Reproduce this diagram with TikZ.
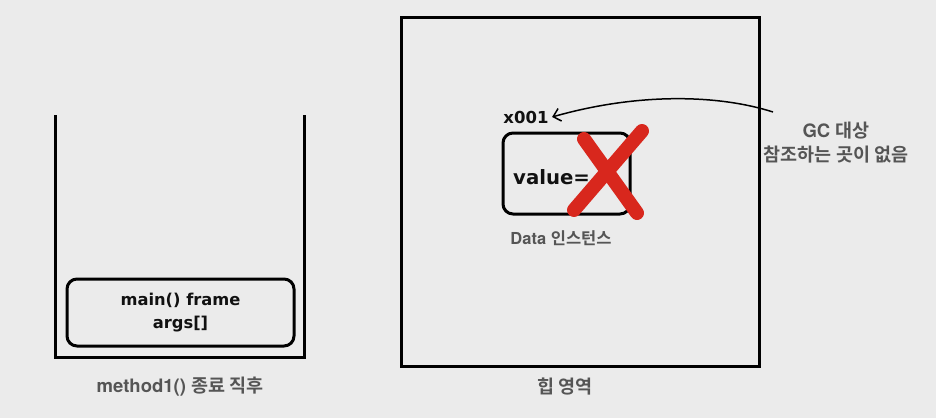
\documentclass[tikz,border=0pt]{standalone}
\usepackage{fontspec}
\setmainfont{TeX Gyre Heros}
\newfontfamily\krfont{Noto Sans CJK KR}[BoldFont={Noto Sans CJK KR Bold}]
\newfontfamily\medfont{DejaVu Sans Bold}
\newcommand{\kr}[1]{{\krfont\bfseries #1}}
\usetikzlibrary{arrows.meta}
\definecolor{bg}{HTML}{EBEBEB}
\definecolor{lab}{HTML}{555555}
\definecolor{xred}{HTML}{D8271D}
\definecolor{ink}{HTML}{111111}
\tikzset{
  x=1pt,y=-1pt,
  wall/.style={line width=3pt,black},
  frame/.style={draw,line width=3pt,rounded corners=10pt},
  caption/.style={text=lab,font=\bfseries\fontsize{18.5}{24}\selectfont,align=center},
  body/.style={text=ink,font=\medfont\fontsize{16.3}{24}\selectfont,align=center},
  cross/.style={line width=14pt,xred,line cap=round},
}
\begin{document}
\begin{tikzpicture}
\fill[bg] (0,0) rectangle (936,418);
\useasboundingbox (0,0) rectangle (936,418);
% stack
\coordinate (sTL) at (55,115);
\coordinate (sBL) at (55,357);
\coordinate (sBR) at (304,357);
\coordinate (sTR) at (304,115);
\draw[wall] (sTL) -- (sBL) -- (sBR) -- (sTR);
\node[frame,minimum width=227pt,minimum height=67pt] (mainf) at (180.5,312.5) {};
\node[body] (maintxt) at (mainf.center) {main() frame\\[-1pt]args[]};
\node[caption] (stacklab) at (180,387) {method1() \kr{종료 직후}};
% heap
\node[draw,line width=3pt,minimum width=358pt,minimum height=349pt] (heap) at (580,191.5) {};
\node[caption] (heaplab) at (565,387) {\kr{힙 영역}};
\node[body,font=\medfont\fontsize{16.5}{22}\selectfont] (addr) at (526,117) {x001};
\node[frame,minimum width=127pt,minimum height=81pt] (data) at (566.5,173.5) {};
\node[text=ink,font=\medfont\fontsize{19.7}{26}\selectfont,anchor=base west,inner sep=0pt] (val) at (513,184) {value=};
\node[caption,font=\bfseries\fontsize{16.5}{20}\selectfont] (datalab) at (561,238) {Data \kr{인스턴스}};
\draw[cross] (584,139) -- (637,213);
\draw[cross] (642,131) -- (574,210);
% GC
\node[caption] (gc) at (836,143) {GC \kr{대상}\\\kr{참조하는 곳이 없음}};
\coordinate (arrs) at (773,112);
\draw[line width=1.5pt,-{Straight Barb[length=7pt,width=13pt]}] (arrs) .. controls (720,95) and (640,92) .. (addr.east);
\end{tikzpicture}
\end{document}
